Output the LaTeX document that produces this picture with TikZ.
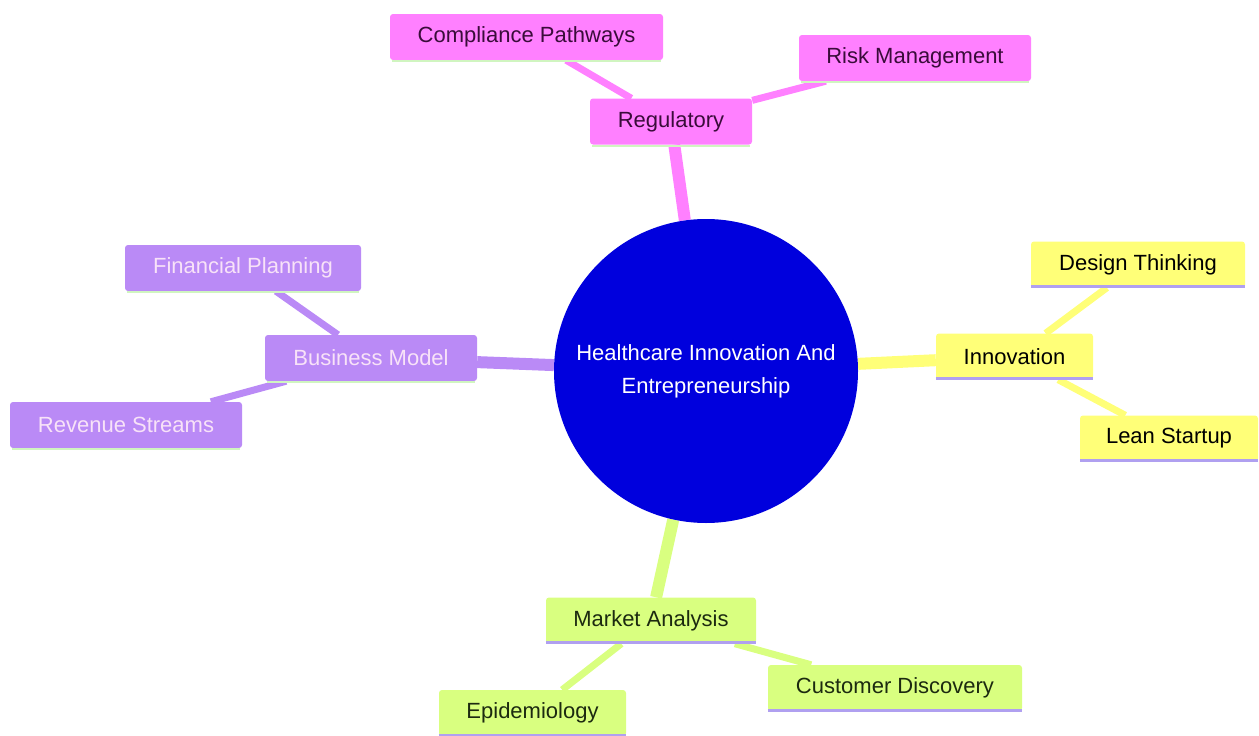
\documentclass[tikz,border=0pt]{standalone}
\usepackage{fontspec}
\setmainfont{Liberation Sans}
\usetikzlibrary{backgrounds}
\definecolor{pinkc}{HTML}{FF80FF}
\definecolor{pinkt}{HTML}{3A0C3A}
\definecolor{yelc}{HTML}{FFFF78}
\definecolor{grnc}{HTML}{D9FF80}
\definecolor{grnt}{HTML}{1C2A10}
\definecolor{purc}{HTML}{BA8AF6}
\definecolor{purt}{HTML}{F8E2F8}
\definecolor{bluec}{HTML}{0000DD}
\definecolor{lavl}{HTML}{B0A0F0}
\definecolor{lgrn}{HTML}{D0F5C0}
\tikzset{
  box/.style={rectangle, rounded corners=3pt, minimum height=46pt, inner sep=0pt,
    font=\fontsize{22}{26}\selectfont},
  pinkbox/.style={box, fill=pinkc, text=pinkt},
  yelbox/.style={box, fill=yelc, text=black},
  grnbox/.style={box, fill=grnc, text=grnt},
  purbox/.style={box, fill=purc, text=purt},
  mainline/.style={line width=12pt},
  subline/.style={line width=7pt},
  uline/.style={line width=3pt, lavl},
  uglow/.style={line width=2pt, lgrn},
}
\begin{document}
\begin{tikzpicture}[x=1pt,y=-1pt]
\useasboundingbox (0,0) rectangle (1259,736);
\node[circle, fill=bluec, minimum size=304pt, inner sep=0pt, text=white, align=center,
  font=\fontsize{22}{33}\selectfont] (c) at (706,371) {Healthcare Innovation And\\Entrepreneurship};

\node[pinkbox, minimum width=162pt] (reg) at (671,121.5) {Regulatory};
\node[pinkbox, minimum width=273pt] (comp) at (526.5,37) {Compliance Pathways};
\node[pinkbox, minimum width=232pt] (risk) at (915,58) {Risk Management};

\node[yelbox, minimum width=157pt] (inn) at (1014.5,356.5) {Innovation};
\node[yelbox, minimum width=214pt] (des) at (1138,264.5) {Design Thinking};
\node[yelbox, minimum width=178pt] (lean) at (1169,438.5) {Lean Startup};

\node[grnbox, minimum width=210pt] (mkt) at (651,620.5) {Market Analysis};
\node[grnbox, minimum width=254pt] (cust) at (895,688) {Customer Discovery};
\node[grnbox, minimum width=187pt] (epi) at (532.5,713) {Epidemiology};

\node[purbox, minimum width=212pt] (bm) at (371,358) {Business Model};
\node[purbox, minimum width=236pt] (fin) at (243,268) {Financial Planning};
\node[purbox, minimum width=232pt] (rev) at (126,425) {Revenue Streams};

\begin{scope}[on background layer]
\draw[mainline, pinkc] (c) -- (reg);
\draw[subline, pinkc] (reg) -- (comp);
\draw[subline, pinkc] (reg) -- (risk);
\draw[mainline, yelc] (c) -- (inn);
\draw[subline, yelc] (inn) -- (des);
\draw[subline, yelc] (inn) -- (lean);
\draw[mainline, grnc] (c) -- (mkt);
\draw[subline, grnc] (mkt) -- (cust);
\draw[subline, grnc] (mkt) -- (epi);
\draw[mainline, purc] (c) -- (bm);
\draw[subline, purc] (bm) -- (fin);
\draw[subline, purc] (bm) -- (rev);
\end{scope}

\foreach \n in {reg,comp,risk,bm,fin,rev}{
  \draw[uglow] ([xshift=2pt,yshift=-1pt]\n.south west) -- ([xshift=-2pt,yshift=-1pt]\n.south east);
}
\foreach \n in {inn,des,lean,mkt,cust,epi}{
  \draw[uline] ([yshift=1pt]\n.south west) -- ([yshift=1pt]\n.south east);
}
\end{tikzpicture}
\end{document}
